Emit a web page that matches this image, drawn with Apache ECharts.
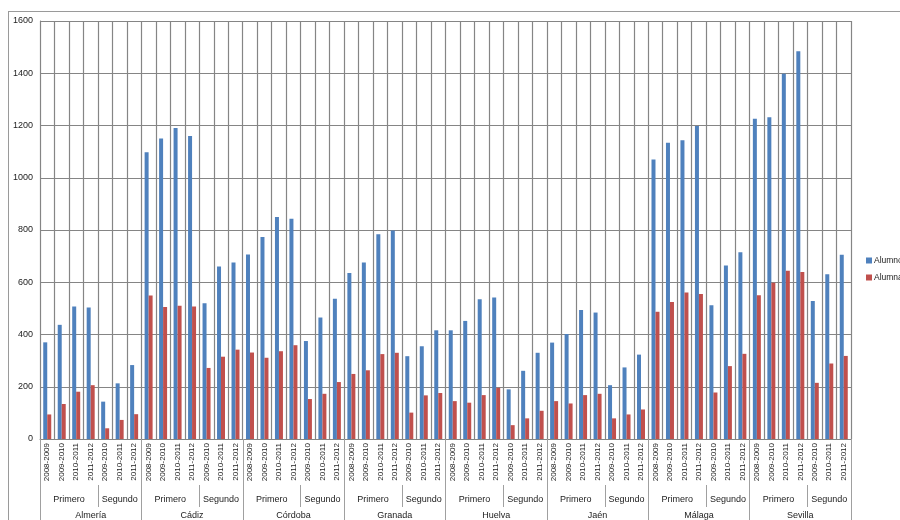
<!DOCTYPE html>
<html>
<head>
<meta charset="utf-8">
<script src="https://cdn.jsdelivr.net/npm/echarts@6/dist/echarts.min.js"></script>
<style>
  html, body { margin:0; padding:0; width:900px; height:520px; overflow:hidden; background:#fff; }
  #frame { position:absolute; left:8px; top:11px; width:1000px; height:600px; border:1px solid #9a9a9a; box-sizing:border-box; }
  #chart { position:absolute; left:0; top:0; width:900px; height:520px; }
</style>
</head>
<body>
<div id="frame"></div>
<div id="chart"></div>
<script>
const provinces = ['Almería','Cádiz','Córdoba','Granada','Huelva','Jaén','Málaga','Sevilla'];
const ciclos = ['Primero','Segundo'];
const primeroYears = ['2008-2009','2009-2010','2010-2011','2011-2012'];
const segundoYears = ['2009-2010','2010-2011','2011-2012'];
const seriesNames = ['Alumnos','Alumnas'];
const yTicks = [0,200,400,600,800,1000,1200,1400,1600];

const alumnos = [
  370,437,507,503,143,213,283,
  1098,1150,1190,1160,520,660,676,
  706,773,850,843,375,465,537,
  635,676,784,798,317,355,416,
  416,452,535,542,190,261,330,
  369,402,494,484,206,274,323,
  1070,1134,1144,1198,512,664,715,
  1226,1232,1398,1484,528,631,705
];
const alumnas = [
  94,134,181,206,41,73,95,
  549,505,510,507,272,315,342,
  331,311,336,359,153,173,218,
  249,263,325,330,101,167,176,
  145,139,168,196,53,79,108,
  145,136,168,173,79,94,113,
  487,524,561,555,178,279,326,
  550,598,644,639,215,289,318
];

// categories (year level)
const yearCats = [];
provinces.forEach(() => { primeroYears.forEach(y => yearCats.push(y)); segundoYears.forEach(y => yearCats.push(y)); });
const perProv = primeroYears.length + segundoYears.length; // 7
// ciclo level on half-unit points (boundaryGap false)
const halfPts = [];
const nPts = yearCats.length * 2 + 1;
const halfPerProv = perProv * 2; // 14
const primCenter = primeroYears.length;
const segCenter = primeroYears.length * 2 + segundoYears.length;
for (let i = 0; i < nPts; i++) {
  const m = i % halfPerProv;
  halfPts.push(m === primCenter ? ciclos[0] : (m === segCenter ? ciclos[1] : ''));
}

const FONT = 'Liberation Sans';
const GRID = '#858585';
const chart = echarts.init(document.getElementById('chart'), null, {renderer:'canvas'});
chart.setOption({
  animation: false,
  backgroundColor: 'transparent',
  textStyle: { fontFamily: FONT },
  color: ['#4F81BD', '#C0504D'],
  legend: {
    orient: 'vertical', left: 861, top: 251, itemWidth: 6, itemHeight: 6, itemGap: 8,
    icon: 'rect', data: seriesNames,
    textStyle: { fontSize: 8.5, color: '#222', fontFamily: FONT, padding: [0,0,0,-3] }
  },
  grid: { left: 40, top: 21, width: 811, height: 420, containLabel: false },
  yAxis: {
    type: 'value', min: yTicks[0], max: yTicks[yTicks.length-1], interval: 200,
    axisLine: { show: true, lineStyle: { color: GRID } },
    axisTick: { show: false },
    axisLabel: { fontSize: 9, color: '#222', margin: 7, formatter: v => String(v) },
    splitLine: { lineStyle: { color: GRID, width: 1.2 } }
  },
  xAxis: [
    {
      type: 'category', data: yearCats, position: 'bottom',
      axisLine: { lineStyle: { color: GRID } },
      axisTick: { interval: 0, length: 49, lineStyle: { color: '#a0a0a0' } },
      axisLabel: { interval: 0, rotate: 90, fontSize: 8, color: '#222', margin: 4 },
      splitLine: { show: true, interval: 0, lineStyle: { color: GRID, width: 1.2 } }
    },
    {
      type: 'category', data: halfPts, boundaryGap: false, position: 'bottom', offset: 46,
      axisLine: { show: false },
      axisTick: { show: true, length: 22, lineStyle: { color: '#a0a0a0' },
        interval: (i) => (i % halfPerProv === 0 || i % halfPerProv === primeroYears.length * 2) },
      axisLabel: { fontSize: 9, color: '#222', margin: 10,
        interval: (i, v) => v !== '' }
    },
    {
      type: 'category', data: provinces, position: 'bottom',
      axisLine: { show: false },
      axisTick: { show: true, interval: 0, length: 100, lineStyle: { color: '#a0a0a0' } },
      axisLabel: { interval: 0, fontSize: 9, color: '#222', margin: 72 }
    }
  ],
  series: [
    { name: seriesNames[0], type: 'bar', data: alumnos, xAxisIndex: 0, barWidth: 4, barGap: '0%' },
    { name: seriesNames[1], type: 'bar', data: alumnas, xAxisIndex: 0, barWidth: 4, barGap: '0%' }
  ]
});
</script>
</body>
</html>
